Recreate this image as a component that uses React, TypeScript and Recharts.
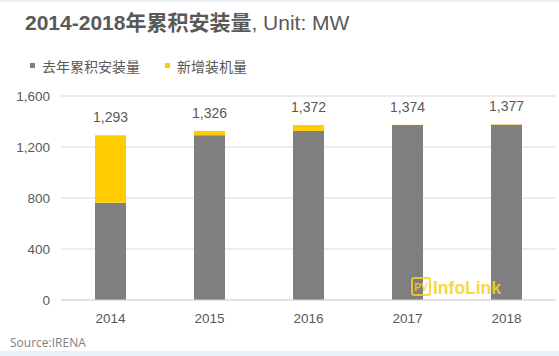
import { BarChart, Bar, XAxis, YAxis, CartesianGrid, LabelList } from "recharts";

// values (MW)
const years = ["2014", "2015", "2016", "2017", "2018"];
const prevCumulative = [763, 1293, 1326, 1372, 1374];
const newInstalled = [530, 33, 46, 2, 3];
const totals = [1293, 1326, 1372, 1374, 1377];
const yTicks = [0, 400, 800, 1200, 1600];

const GRAY = "#7f7f7f";
const YELLOW = "#ffcc00";
const TEXT = "#595959";
const FONT = '"Liberation Sans", Arial, "Noto Sans CJK SC", sans-serif';
const CJK = '"Liberation Sans", "Noto Sans CJK SC", sans-serif';

const data = years.map((y, i) => ({
  year: y,
  prev: prevCumulative[i],
  added: newInstalled[i],
  total: totals[i],
}));

const fmt = (v: number) => Number(v).toLocaleString("en-US");

export default function App() {
  return (
    <div
      style={{
        position: "absolute",
        left: 0,
        top: 0,
        width: 559,
        height: 356,
        background: "#fff",
        fontFamily: FONT,
        overflow: "hidden",
      }}
    >
      <div style={{ position: "absolute", left: 0, top: 0, width: 559, height: 2, background: "#e8f1f6" }} />
      <div style={{ position: "absolute", left: 0, bottom: 0, width: 559, height: 5, background: "#e8f1f6" }} />
      <BarChart
        width={559}
        height={356}
        data={data}
        margin={{ top: 96, right: 3, bottom: 26, left: 0 }}
      >
        <CartesianGrid vertical={false} stroke="#d9d9d9" />
        <XAxis
          dataKey="year"
          tickLine={false}
          axisLine={{ stroke: "#d9d9d9" }}
          tickMargin={7}
          height={30}
          tick={{ fill: TEXT, fontSize: 13.5, fontFamily: FONT }}
        />
        <YAxis
          width={61}
          domain={[0, 1600]}
          ticks={yTicks}
          tickLine={false}
          axisLine={false}
          tickMargin={5}
          tickFormatter={fmt}
          tick={{ fill: TEXT, fontSize: 13.5, fontFamily: FONT }}
        />
        <Bar dataKey="prev" stackId="a" fill={GRAY} barSize={31} isAnimationActive={false} />
        <Bar dataKey="added" stackId="a" fill={YELLOW} barSize={31} isAnimationActive={false}>
          <LabelList
            dataKey="total"
            position="top"
            offset={13}
            formatter={(v: any) => fmt(v)}
            style={{ fill: TEXT, fontSize: 14, fontFamily: FONT }}
          />
        </Bar>
      </BarChart>
      <svg
        width={559}
        height={356}
        style={{ position: "absolute", left: 0, top: 0, pointerEvents: "none" }}
      >
        <text x={25} y={30} fill={TEXT} fontFamily={CJK} fontSize={21}>
          <tspan fontWeight="bold">2014-2018年累积安装量</tspan>
          <tspan>, Unit: MW</tspan>
        </text>
        <rect x={30} y={63} width={5} height={5} fill={GRAY} />
        <text x={42} y={72} fill={TEXT} fontFamily={CJK} fontSize={14}>
          去年累积安装量
        </text>
        <rect x={165} y={63} width={5} height={5} fill={YELLOW} />
        <text x={177} y={72} fill={TEXT} fontFamily={CJK} fontSize={14}>
          新增装机量
        </text>
        <text x={10} y={347} fill="#7f7f7f" fontFamily='"Open Sans", sans-serif' fontSize={12}>
          Source:IRENA
        </text>
        <g opacity={0.85}>
          <rect x={412} y={278} width={18} height={17} rx={2} fill="none" stroke="#f7d21c" strokeWidth={2} />
          <text x={421} y={291} textAnchor="middle" fill="#f7d21c" fontFamily={FONT} fontSize={10} fontWeight="bold">
            PV
          </text>
          <text x={433} y={294} fill="#f7d21c" fontFamily={FONT} fontSize={17.5} fontWeight="bold">
            InfoLink
          </text>
        </g>
      </svg>
    </div>
  );
}
